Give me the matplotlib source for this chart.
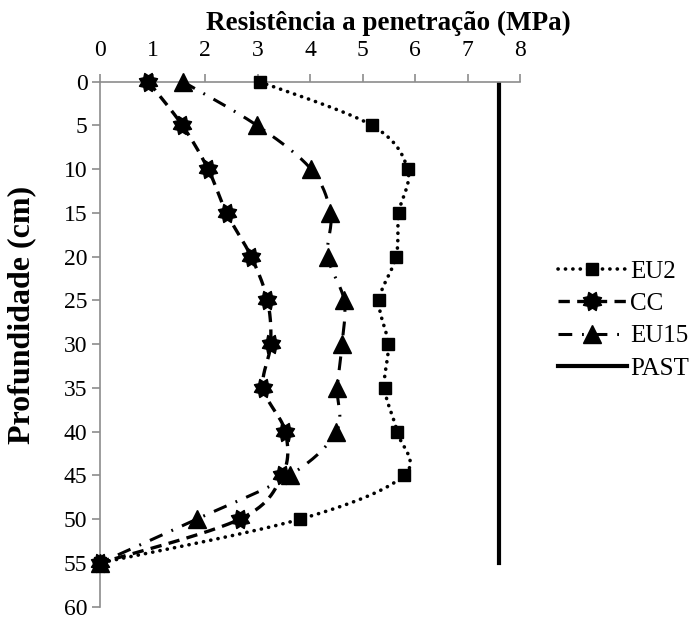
import numpy as np
import matplotlib
matplotlib.use("Agg")
import matplotlib.pyplot as plt
from matplotlib.path import Path

# ---------------- data ----------------
depth = [0, 5, 10, 15, 20, 25, 30, 35, 40, 45, 50, 55]
eu2 = [3.04, 5.18, 5.86, 5.69, 5.64, 5.32, 5.49, 5.42, 5.66, 5.79, 3.81, 0.0]
cc = [0.92, 1.57, 2.06, 2.41, 2.88, 3.19, 3.25, 3.11, 3.53, 3.47, 2.66, 0.0]
eu15 = [1.58, 2.99, 4.02, 4.39, 4.34, 4.65, 4.61, 4.52, 4.50, 3.61, 1.84, 0.0]
past = [7.6] * 12
series_names = ["EU2", "CC", "EU15", "PAST"]
xticks = [0, 1, 2, 3, 4, 5, 6, 7, 8]
yticks = [0, 5, 10, 15, 20, 25, 30, 35, 40, 45, 50, 55, 60]
title = "Resistência a penetração (MPa)"
ylabel = "Profundidade (cm)"

plt.rcParams['font.family'] = ['Liberation Serif', 'DejaVu Serif']


def smooth(xs, ys, n=30):
    """Excel-like smoothed line (Catmull-Rom / Bezier with 1/6 handles)."""
    P = np.column_stack([xs, ys]).astype(float)
    m = len(P)
    out = [P[0]]
    t = np.linspace(0, 1, n)[1:]
    for i in range(m - 1):
        p0 = P[i - 1] if i > 0 else P[i]
        p1 = P[i]
        p2 = P[i + 1]
        p3 = P[i + 2] if i + 2 < m else P[i + 1]
        c1 = p1 + (p2 - p0) / 6.0
        c2 = p2 - (p3 - p1) / 6.0
        for tt in t:
            b = ((1 - tt) ** 3) * p1 + 3 * ((1 - tt) ** 2) * tt * c1 + 3 * (1 - tt) * tt ** 2 * c2 + tt ** 3 * p2
            out.append(b)
    out = np.array(out)
    return out[:, 0], out[:, 1]


# 8-point star marker
ang = np.linspace(0, 2 * np.pi, 17)[:-1] + np.pi / 8
rad = np.where(np.arange(16) % 2 == 0, 1.0, 0.68)
verts = np.column_stack([rad * np.cos(ang), rad * np.sin(ang)])
verts = np.vstack([verts, verts[0]])
star = Path(verts, [Path.MOVETO] + [Path.LINETO] * 15 + [Path.CLOSEPOLY])

fig = plt.figure(figsize=(6.95, 6.19), dpi=100)
ax = fig.add_axes([100 / 695, 1 - 606.7 / 619, 420 / 695, (606.7 - 81.7) / 619])

styles = [
    dict(data=eu2, ls=(0, (0.05, 2.0)), lw=2.6, marker='s', ms=9, dash_capstyle='round'),
    dict(data=cc, ls=(0, (3.4, 2.2)), lw=2.4, marker=star, ms=13, dash_capstyle='butt'),
    dict(data=eu15, ls=(0, (4.5, 3.2, 0.6, 3.2)), lw=2.2, marker='^', ms=13, dash_capstyle='butt'),
    dict(data=past, ls='-', lw=3.0, marker=None, ms=0, dash_capstyle='butt'),
]

handles = []
for name, st in zip(series_names, styles):
    sx, sy = smooth(st['data'], depth)
    ax.plot(sx, sy, color='black', ls=st['ls'], lw=st['lw'],
            dash_capstyle=st['dash_capstyle'], zorder=2)
    if st['marker'] is not None:
        ax.plot(st['data'], depth, ls='none', marker=st['marker'], ms=st['ms'],
                color='black', zorder=3, clip_on=False)
    h, = ax.plot([], [], color='black', ls=st['ls'], lw=st['lw'],
                 dash_capstyle=st['dash_capstyle'],
                 marker=st['marker'] if st['marker'] is not None else None,
                 ms=st['ms'], label=name)
    handles.append(h)

ax.set_xlim(0, 8)
ax.set_ylim(60, 0)
ax.set_xticks(xticks)
ax.set_yticks(yticks)
ax.xaxis.tick_top()
for s in ['right', 'bottom']:
    ax.spines[s].set_visible(False)
for s in ['top', 'left']:
    ax.spines[s].set_color('#8c8c8c')
    ax.spines[s].set_linewidth(1.2)
ax.tick_params(axis='both', direction='out', length=6, width=1.2, color='#8c8c8c',
               labelsize=17)
ax.tick_params(axis='x', pad=9)
ax.tick_params(axis='y', pad=3)

fig.text(388 / 695, 1 - 23 / 619, title, ha='center', va='center',
         fontsize=19.5, fontweight='bold')
fig.text(22 / 695, 1 - 315 / 619, ylabel, ha='center', va='center',
         rotation=90, fontsize=23, fontweight='bold')

leg = fig.legend(handles=handles, loc='center left',
                 bbox_to_anchor=(548 / 695, 1 - 320 / 619),
                 frameon=False, fontsize=18, handlelength=2.75,
                 handletextpad=0.12, labelspacing=0.4, borderaxespad=0)

fig.savefig('out.png', dpi=100)
